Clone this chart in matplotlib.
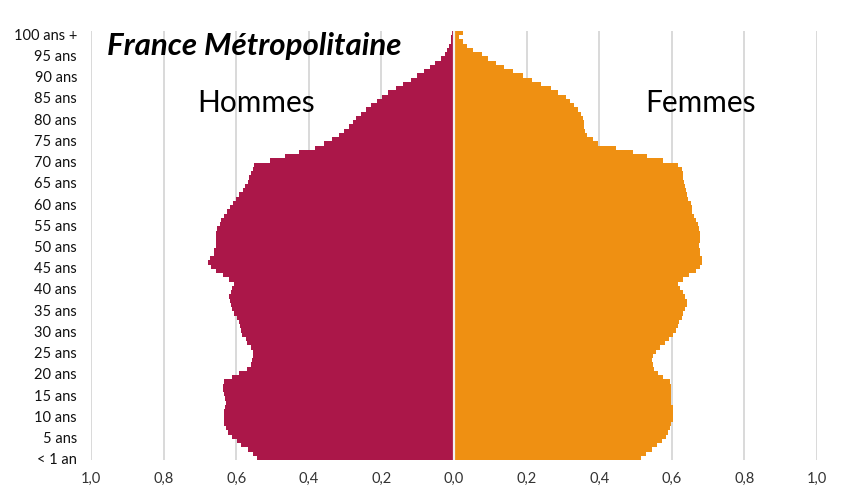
import matplotlib
matplotlib.use("Agg")
import matplotlib.pyplot as plt
import numpy as np

# Ages 0..100 (100 = "100 ans +")
ages = list(range(101))

# Share of population (%) by age
hommes = [
    0.542, 0.553, 0.568, 0.588, 0.599, 0.612, 0.622, 0.628, 0.633, 0.634,   # 0-9
    0.634, 0.633, 0.630, 0.628, 0.631, 0.634, 0.636, 0.636, 0.634, 0.612,   # 10-19
    0.592, 0.571, 0.560, 0.557, 0.553, 0.555, 0.560, 0.571, 0.574, 0.585,   # 20-29
    0.588, 0.590, 0.592, 0.599, 0.605, 0.611, 0.615, 0.617, 0.619, 0.614,   # 30-39
    0.612, 0.605, 0.619, 0.637, 0.656, 0.670, 0.677, 0.672, 0.661, 0.661,   # 40-49
    0.657, 0.657, 0.657, 0.656, 0.652, 0.646, 0.642, 0.634, 0.626, 0.617,   # 50-59
    0.608, 0.601, 0.591, 0.582, 0.576, 0.567, 0.564, 0.560, 0.553, 0.551,   # 60-69
    0.507, 0.466, 0.426, 0.382, 0.358, 0.337, 0.316, 0.303, 0.289, 0.277,   # 70-79
    0.270, 0.257, 0.243, 0.230, 0.213, 0.199, 0.181, 0.160, 0.140, 0.119,   # 80-89
    0.101, 0.083, 0.066, 0.052, 0.037, 0.025, 0.020, 0.013, 0.009, 0.007,   # 90-99
    0.006,                                                                   # 100+
]
femmes = [
    0.515, 0.530, 0.545, 0.560, 0.574, 0.584, 0.590, 0.595, 0.599, 0.602,   # 0-9
    0.604, 0.604, 0.602, 0.598, 0.597, 0.597, 0.599, 0.599, 0.595, 0.576,   # 10-19
    0.563, 0.551, 0.547, 0.545, 0.549, 0.556, 0.567, 0.581, 0.593, 0.602,   # 20-29
    0.611, 0.616, 0.621, 0.627, 0.632, 0.636, 0.641, 0.643, 0.636, 0.632,   # 30-39
    0.623, 0.616, 0.632, 0.648, 0.668, 0.679, 0.684, 0.683, 0.679, 0.678,   # 40-49
    0.676, 0.679, 0.679, 0.678, 0.676, 0.673, 0.666, 0.662, 0.657, 0.655,   # 50-59
    0.652, 0.646, 0.643, 0.639, 0.636, 0.634, 0.632, 0.630, 0.627, 0.618,   # 60-69
    0.575, 0.533, 0.492, 0.446, 0.397, 0.382, 0.367, 0.361, 0.359, 0.358,   # 70-79
    0.356, 0.350, 0.342, 0.331, 0.320, 0.309, 0.287, 0.266, 0.241, 0.214,   # 80-89
    0.189, 0.163, 0.138, 0.116, 0.094, 0.076, 0.051, 0.035, 0.024, 0.015,   # 90-99
    0.024,                                                                   # 100+
]

ytick_ages = list(range(0, 101, 5))
ytick_labels = ["< 1 an"] + [f"{a} ans" for a in range(5, 100, 5)] + ["100 ans +"]
xticks = [-1.0, -0.8, -0.6, -0.4, -0.2, 0.0, 0.2, 0.4, 0.6, 0.8, 1.0]
xtick_labels = [f"{abs(v):.1f}".replace(".", ",") for v in xticks]

plt.rcParams['font.family'] = ['Lato', 'DejaVu Sans']

W, H = 848, 489
fig = plt.figure(figsize=(W / 100, H / 100), dpi=100)
ax = fig.add_axes([91 / W, 1 - 461.1 / H, (817 - 91) / W, (461.1 - 31.9) / H])

ax.barh(ages, [-v for v in hommes], height=1.0, color="#AB1749", linewidth=0, zorder=2)
ax.barh(ages, femmes, height=1.0, color="#EF9012", linewidth=0, zorder=2)
ax.axvline(0, color="#F2F2F2", lw=1.6, zorder=3)

ax.set_xlim(-1.0, 1.0)
ax.set_ylim(-0.5, 100.5)
ax.set_xticks(xticks)
ax.set_xticklabels(xtick_labels, fontsize=10.5, color="#333333")
ax.set_yticks(ytick_ages)
ax.set_yticklabels(ytick_labels, fontsize=10.5, color="#111111")
ax.tick_params(length=0, pad=10)
ax.tick_params(axis="x", pad=8)
ax.grid(axis="x", color="#D9D9D9", lw=1.4, zorder=0)
ax.set_axisbelow(True)
for s in ax.spines.values():
    s.set_visible(False)

fig.text(107 / W, 1 - 46 / H, "France Métropolitaine", fontsize=22.5, fontweight="bold",
         fontstyle="italic", ha="left", va="center", color="black")
fig.text(256 / W, 1 - 103 / H, "Hommes", fontsize=21.5, ha="center", va="center", color="black")
fig.text(700 / W, 1 - 103 / H, "Femmes", fontsize=21.5, ha="center", va="center", color="black")

fig.savefig("out.png", dpi=100)
